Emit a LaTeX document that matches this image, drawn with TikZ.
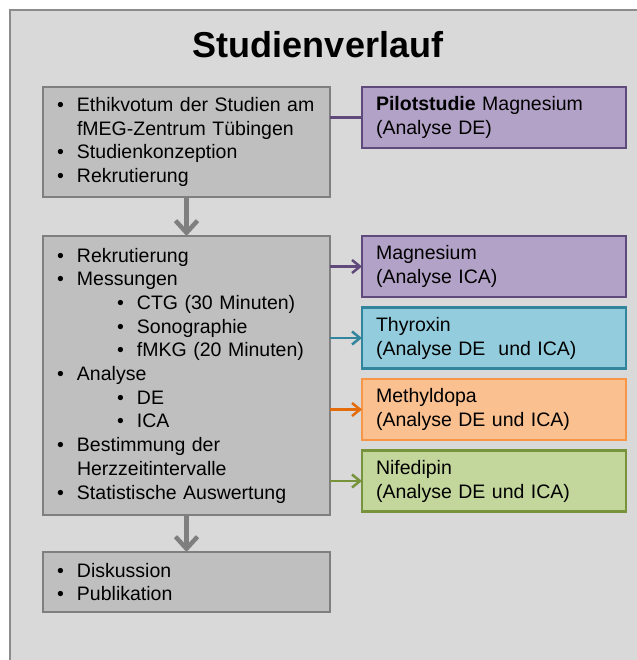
\documentclass[tikz,border=0pt]{standalone}
\usepackage{fontspec}
\setmainfont{Liberation Sans}
\usetikzlibrary{arrows.meta, positioning}
\definecolor{framegray}{HTML}{D9D9D9}
\definecolor{linegray}{HTML}{8C8C8C}
\definecolor{boxgray}{HTML}{BFBFBF}
\definecolor{edgegray}{HTML}{7F7F7F}
\definecolor{purplefill}{HTML}{B3A2C7}
\definecolor{purpleedge}{HTML}{604A7B}
\definecolor{bluefill}{HTML}{93CDDD}
\definecolor{blueedge}{HTML}{31859C}
\definecolor{orangefill}{HTML}{FAC090}
\definecolor{orangeedge}{HTML}{F79646}
\definecolor{orangearrow}{HTML}{E46C0A}
\definecolor{greenfill}{HTML}{C3D69B}
\definecolor{greenedge}{HTML}{77933C}
\newcommand{\bul}{\makebox[20pt][l]{\textbullet}}
\newcommand{\hang}{\hspace*{20pt}}
\newcommand{\subbul}{\hspace*{60pt}\bul}
\tikzset{
  stage/.style ={draw=edgegray, fill=boxgray, line width=2.5pt, align=left,
                 text width=259pt, inner xsep=14pt, inner ysep=0pt,
                 outer sep=0pt, font=\fontsize{19.5pt}{23.7pt}\selectfont},
  drug/.style  ={line width=2.5pt, align=left, text width=236pt,
                 inner xsep=14pt, minimum height=61pt, outer sep=0pt,
                 font=\fontsize{19.5pt}{24pt}\selectfont},
  flow/.style  ={-{Straight Barb[length=12pt,width=22pt]}, line width=4.5pt,
                 color=edgegray},
  link/.style  ={-{Straight Barb[length=8pt,width=13pt]}, line width=2.5pt},
}

\begin{document}
\begin{tikzpicture}[node distance=10.5pt and 32pt]
  \useasboundingbox (0pt,0pt) rectangle (636pt,-660pt);
  \fill[framegray] (10pt,-10pt) rectangle (680pt,-700pt);
  \draw[linegray, line width=2pt] (10pt,-700pt) |- (680pt,-10pt);

  \node[font=\fontsize{36pt}{40pt}\selectfont\bfseries] (title) at (318pt,-45pt)
    {Studienverlauf};

  % linke Spalte
  \node[stage, anchor=north west, minimum height=110pt] (prep) at (43pt,-87pt)
    {\bul Ethikvotum der Studien am\\ \hang fMEG-Zentrum Tübingen\\
     \bul Studienkonzeption\\ \bul Rekrutierung};
  \node[stage, below=39pt of prep, minimum height=279pt] (study)
    {\bul Rekrutierung\\ \bul Messungen\\ \subbul CTG (30 Minuten)\\
     \subbul Sonographie\\ \subbul fMKG (20 Minuten)\\ \bul Analyse\\
     \subbul DE\\ \subbul ICA\\ \bul Bestimmung der\\ \hang Herzzeitintervalle\\
     \bul Statistische Auswertung};
  \node[stage, below=37pt of study, minimum height=60pt] (closing)
    {\bul Diskussion\\ \bul Publikation};

  % rechte Spalte
  \node[drug, fill=purplefill, draw=purpleedge,
        right=32pt of prep.north east, anchor=north west] (pilot)
    {\textbf{Pilotstudie} Magnesium\\(Analyse DE)};
  \node[drug, fill=purplefill, draw=purpleedge,
        right=32pt of study.north east, anchor=north west] (magnesium)
    {Magnesium\\(Analyse ICA)};
  \node[drug, fill=bluefill, draw=blueedge, below=of magnesium] (thyroxin)
    {Thyroxin\\(Analyse DE\ \ und ICA)};
  \node[drug, fill=orangefill, draw=orangeedge, below=of thyroxin] (methyldopa)
    {Methyldopa\\(Analyse DE und ICA)};
  \node[drug, fill=greenfill, draw=greenedge, below=of methyldopa] (nifedipin)
    {Nifedipin\\(Analyse DE und ICA)};

  \draw[flow] (prep) -- (study);
  \draw[flow] (study) -- (closing);
  \draw[line width=2.5pt, purpleedge] (prep.east |- pilot.west) -- (pilot.west);
  \draw[link, purpleedge]  (study.east |- magnesium.west)  -- (magnesium.west);
  \draw[link, blueedge]    (study.east |- thyroxin.west)   -- (thyroxin.west);
  \draw[link, orangearrow] (study.east |- methyldopa.west) -- (methyldopa.west);
  \draw[link, greenedge]   (study.east |- nifedipin.west)  -- (nifedipin.west);
\end{tikzpicture}
\end{document}
